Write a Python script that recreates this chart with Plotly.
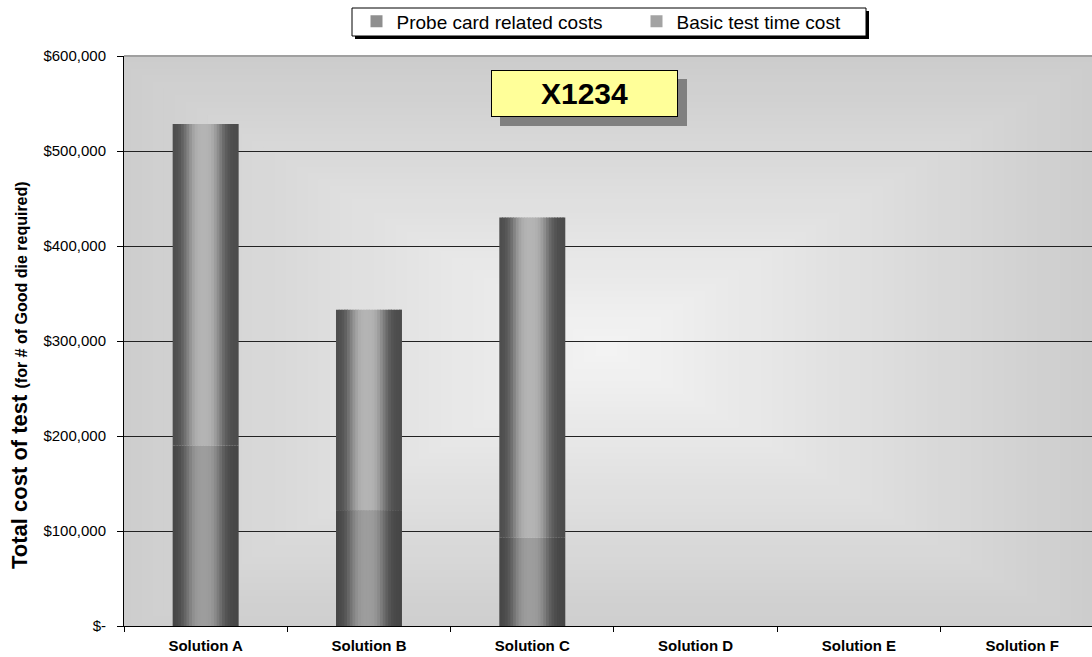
import math
import plotly.graph_objects as go

# ---------------- data ----------------
categories = ["Solution A", "Solution B", "Solution C", "Solution D", "Solution E", "Solution F"]
probe_card_costs = [190000, 122000, 93000, 0, 0, 0]
basic_test_time_cost = [338500, 211000, 337000, 0, 0, 0]
series_names = ["Probe card related costs", "Basic test time cost"]
y_tick_values = [0, 100000, 200000, 300000, 400000, 500000, 600000]
y_tick_labels = ["$-", "$100,000", "$200,000", "$300,000", "$400,000", "$500,000", "$600,000"]
chart_label = "X1234"

# ---------------- geometry helpers (pixel -> paper) ----------------
W, H = 1092, 657
ML, MR, MT, MB = 124, 0, 56, 31
PW = W - ML - MR
PH = H - MT - MB


def px_x(px):
    return (px - ML) / PW


def px_y(py):
    return (H - MB - py) / PH


FONT = "Arial, Liberation Sans, sans-serif"

fig = go.Figure()

# ---------------- cylindrical bars as shaded slices ----------------
BAR_W = 0.404
N_SLICES = 24
sw = BAR_W / N_SLICES


def shade(t, dark, light):
    f = math.exp(-abs((t - 0.47) / 0.28) ** 3)
    v = int(round(dark + (light - dark) * f))
    return "rgb(%d,%d,%d)" % (v, v, v)


series = [
    (series_names[0], probe_card_costs, [0] * len(categories), 0x46, 0x9d, 235),
    (series_names[1], basic_test_time_cost, probe_card_costs, 0x4c, 0xb4, 188),
]

for name, vals, base, dark, light, lw in series:
    for i in range(N_SLICES):
        t = (i + 0.5) / N_SLICES
        off = -BAR_W / 2 + i * sw
        width = sw * 1.35 if i < N_SLICES - 1 else sw
        show = (i == N_SLICES // 2 - 5)
        kw = dict(legendwidth=lw) if show else {}
        fig.add_trace(go.Bar(
            x=categories, y=vals, base=base,
            width=[width] * len(categories), offset=off,
            marker=dict(color=shade(t, dark, light), line=dict(width=0)),
            name=name, legendgroup=name, showlegend=show,
            hoverinfo="skip", **kw,
        ))

# ---------------- background rectangular "from centre" gradient ----------------
shapes = []
gx0, gx1, gy0, gy1 = 124.4, 1104.0, 56.0, 626.0
cx, cy = (gx0 + gx1) / 2 - 8, (gy0 + gy1) / 2 + 8
hw, hh = (gx1 - gx0) / 2, (gy1 - gy0) / 2
edge, centre = 0xcc, 0xf4
NSTEP = 45
for k in range(NSTEP):
    d = 1 - k / NSTEP
    v = int(round(edge + (centre - edge) * (1 - d)))
    x0 = max(0, px_x(cx - d * hw - 8 * d))
    x1 = min(1, px_x(cx + d * hw + 8 * d))
    y0 = max(0, px_y(cy + d * hh + 8 * d))
    y1 = min(1, px_y(cy - d * hh - 8 * d))
    shapes.append(dict(type="rect", xref="paper", yref="paper", x0=x0, x1=x1, y0=y0, y1=y1,
                       fillcolor="rgb(%d,%d,%d)" % (v, v, v), line=dict(width=0), layer="below"))

# top border of plot area (gray)
shapes.append(dict(type="line", xref="paper", yref="paper", x0=0, x1=1, y0=1, y1=1,
                   line=dict(color="#a0a0a0", width=2), layer="above"))

# legend frame with shadow (legend itself drawn transparently on top)
LEG_L, LEG_R, LEG_T, LEG_B = 352, 866, 8, 36
shapes.append(dict(type="rect", xref="paper", yref="paper",
                   x0=px_x(LEG_L + 3), x1=px_x(LEG_R + 3), y0=px_y(LEG_B + 3), y1=px_y(LEG_T + 3),
                   fillcolor="black", line=dict(width=0), layer="above"))
shapes.append(dict(type="rect", xref="paper", yref="paper",
                   x0=px_x(LEG_L), x1=px_x(LEG_R), y0=px_y(LEG_B), y1=px_y(LEG_T),
                   fillcolor="white", line=dict(color="black", width=1), layer="above"))

annotations = [
    # y axis title
    dict(text="<b>Total cost of test <span style='font-size:16px'>(for # of Good die required)</span></b>",
         xref="paper", yref="paper", x=px_x(19), y=px_y(375), textangle=-90,
         showarrow=False, font=dict(family=FONT, size=22, color="black"),
         xanchor="center", yanchor="middle"),
    # label shadow
    dict(text=" ", xref="paper", yref="paper", x=px_x(593.5), y=px_y(102.5),
         showarrow=False, width=187, height=47, bgcolor="#808080", borderwidth=0, borderpad=0,
         xanchor="center", yanchor="middle"),
    # label box
    dict(text="<b>%s</b>" % chart_label, xref="paper", yref="paper", x=px_x(584.5), y=px_y(93.5),
         showarrow=False, width=185, height=45, bgcolor="#ffff99", bordercolor="black",
         borderwidth=1, borderpad=0, font=dict(family=FONT, size=30, color="black"),
         xanchor="center", yanchor="middle"),
]

fig.update_layout(
    width=W, height=H,
    margin=dict(l=ML, r=MR, t=MT, b=MB, pad=0),
    paper_bgcolor="white", plot_bgcolor="#cccccc",
    barmode="overlay",
    font=dict(family=FONT, color="black", size=15),
    showlegend=True,
    legend=dict(orientation="h", x=px_x((LEG_L + LEG_R) / 2 + 4), xanchor="center",
                y=px_y(2.5), yanchor="top",
                bgcolor="rgba(0,0,0,0)", borderwidth=0,
                font=dict(family=FONT, size=19, color="black"), traceorder="normal"),
    shapes=shapes,
    annotations=annotations,
    xaxis=dict(type="category", categoryorder="array", categoryarray=categories,
               range=[-0.5, 5.427], tickson="boundaries", ticks="outside", ticklen=5,
               tickcolor="black", showline=True, linecolor="black", linewidth=1,
               showgrid=False, tickfont=dict(family=FONT, size=15, color="black"),
               ticktext=["<b>%s</b>" % c for c in categories], tickvals=categories,
               ticklabelstandoff=6),
    yaxis=dict(range=[0, 600000], tickvals=y_tick_values, ticktext=y_tick_labels,
               ticks="outside", ticklen=6, tickcolor="black", showline=True,
               linecolor="black", linewidth=1, showgrid=True, gridcolor="#222222",
               gridwidth=1.2, zeroline=False, tickfont=dict(family=FONT, size=15, color="black"),
               ticklabelstandoff=8),
)

fig.write_html("out.html")
